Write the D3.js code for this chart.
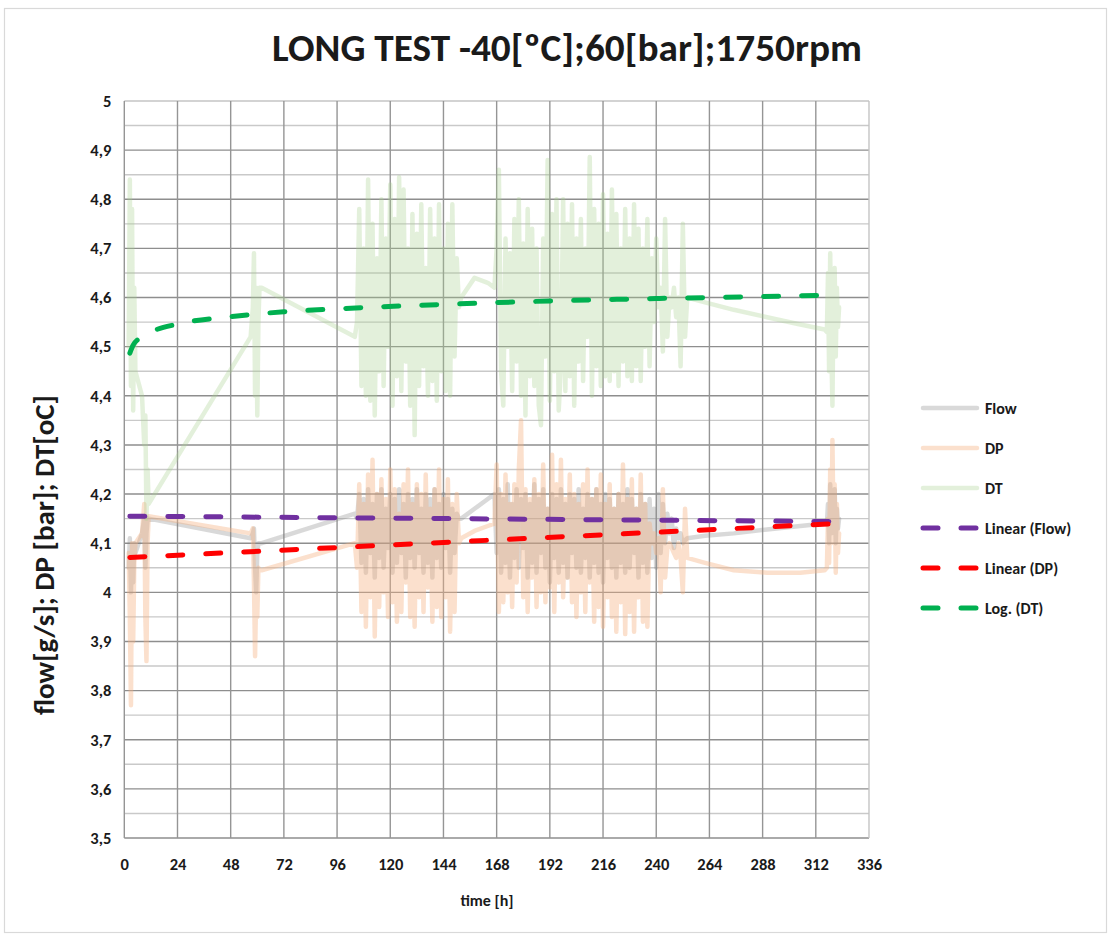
<!DOCTYPE html>
<html>
<head>
<meta charset="utf-8">
<script src="https://cdn.jsdelivr.net/npm/d3@7"></script>
<style>
  html, body { margin: 0; padding: 0; background: #fff; }
  svg { display: block; }
  text { font-family: Carlito, Calibri, Lato, "Open Sans", sans-serif; font-weight: bold; fill: #1a1a1a; }
</style>
</head>
<body>
<svg id="chart" width="1109" height="936"></svg>
<script>
// ---------------- DATA ----------------
const titleText = "LONG TEST -40[ºC];60[bar];1750rpm";
const xLabel = "time [h]";
const yLabel = "flow[g/s]; DP [bar]; DT[oC]";
const xTicks = [0, 24, 48, 72, 96, 120, 144, 168, 192, 216, 240, 264, 288, 312, 336];
const yTicks = [3.5, 3.6, 3.7, 3.8, 3.9, 4.0, 4.1, 4.2, 4.3, 4.4, 4.5, 4.6, 4.7, 4.8, 4.9, 5.0];
const yTickLabels = ["3,5","3,6","3,7","3,8","3,9","4","4,1","4,2","4,3","4,4","4,5","4,6","4,7","4,8","4,9","5"];
const yMinorTicks = [3.55, 3.65, 3.75, 3.85, 3.95, 4.05, 4.15, 4.25, 4.35, 4.45, 4.55, 4.65, 4.75, 4.85, 4.95];
const seriesNames = ["Flow", "DP", "DT", "Linear (Flow)", "Linear (DP)", "Log. (DT)"];

// measurement times [h]
const timeH = [
  2,2.5,3,3.5,4,4.5,5,8,9,9.5,10,10.5,11,
  57,58,58.5,59,59.5,60,60.5,61,62,
  104,
  105,106,107,108,109,110,111,112,113,114,
  115,116,117,118,119,120,121,122,123,124,
  125,126,127,128,129,130,131,132,133,134,
  135,136,137,138,139,140,141,142,143,144,
  145,146,147,148,149,150,151,
  152,158,164,
  167,168,169,170,171,172,173,174,175,176,
  177,178,179,180,181,182,183,184,185,186,
  187,188,189,190,191,192,193,194,195,196,
  197,198,199,200,201,202,203,204,205,206,
  207,208,209,210,211,212,213,214,215,216,
  217,218,219,220,221,222,223,224,225,226,
  227,228,229,230,231,232,233,234,235,236,
  237,238,239,240,241,242,243,244,245,246,
  247,248,249,250,251,252,253,254,
  262,275,290,305,316,
  317,317.5,318,318.5,319,319.5,320,320.5,321,321.5,322,322.5
];

const flowVals = [
  4.05,4.11,4.00,4.09,4.02,4.10,4.08,4.12,4.15,4.05,4.12,4.15,4.15,
  4.11,4.12,4.13,4.05,4.00,4.08,4.10,4.10,4.10,
  4.16,
  4.15,4.20,4.06,4.19,4.04,4.21,4.08,4.18,4.03,4.20,
  4.07,4.21,4.05,4.17,4.09,4.20,4.04,4.19,4.06,4.21,
  4.08,4.18,4.03,4.20,4.07,4.19,4.05,4.21,4.08,4.17,
  4.04,4.20,4.06,4.19,4.03,4.21,4.07,4.18,4.05,4.20,
  4.09,4.19,4.04,4.17,4.08,4.16,4.15,
  4.15,4.17,4.19,
  4.20,4.08,4.21,4.04,4.19,4.06,4.22,4.03,4.18,4.07,
  4.21,4.05,4.19,4.09,4.20,4.03,4.18,4.06,4.22,4.04,
  4.19,4.08,4.21,4.05,4.17,4.02,4.20,4.07,4.19,4.04,
  4.21,4.06,4.18,4.03,4.20,4.08,4.19,4.05,4.21,4.04,
  4.17,4.07,4.20,4.03,4.19,4.06,4.21,4.04,4.18,4.02,
  4.20,4.07,4.19,4.05,4.17,4.03,4.20,4.06,4.18,4.04,
  4.21,4.05,4.19,4.08,4.17,4.03,4.20,4.06,4.18,4.04,
  4.19,4.07,4.17,4.05,4.20,4.08,4.18,4.10,4.16,4.12,
  4.15,4.09,4.13,4.11,4.12,4.10,4.106,4.11,
  4.115,4.12,4.128,4.135,4.14,
  4.14,4.18,4.10,4.22,4.12,4.20,4.15,4.21,4.10,4.17,4.13,4.15
];

const dpVals = [
  4.08,3.95,3.77,4.10,3.90,4.06,4.10,4.12,4.18,3.95,3.86,4.10,4.155,
  4.12,4.13,4.02,3.87,4.00,3.95,4.05,4.045,4.045,
  4.10,
  4.05,4.22,3.96,4.18,3.93,4.24,3.99,4.27,3.91,4.20,
  3.97,4.23,4.00,4.19,3.95,4.25,3.98,4.21,3.94,4.16,
  3.96,4.22,4.02,4.25,3.95,4.18,3.93,4.22,3.99,4.20,
  3.96,4.24,4.01,4.17,3.94,4.21,3.97,4.25,3.95,4.19,
  3.99,4.23,3.92,4.18,3.96,4.20,4.10,
  4.11,4.125,4.135,
  4.14,4.26,3.96,4.20,3.98,4.24,4.00,4.18,3.97,4.22,
  4.02,4.25,4.35,3.99,4.21,3.96,4.19,4.03,4.23,3.97,
  4.20,4.00,4.26,3.98,4.17,4.01,4.28,3.96,4.22,4.02,
  4.27,3.99,4.19,4.03,4.24,3.98,4.20,3.95,4.18,4.00,
  4.22,3.96,4.25,4.02,4.19,3.94,4.21,3.97,4.24,3.93,
  4.18,3.99,4.22,3.95,4.17,3.92,4.20,3.98,4.26,3.915,
  4.19,3.96,4.23,3.92,4.17,3.99,4.24,3.94,4.18,3.93,
  4.14,4.10,4.12,4.08,4.11,4.00,4.21,4.03,4.09,4.10,
  4.09,4.08,4.07,4.10,4.07,4.00,4.17,4.07,
  4.06,4.045,4.04,4.04,4.045,
  4.05,4.15,4.06,4.25,4.10,4.31,4.12,4.22,4.04,4.18,4.08,4.12
];

const dtVals = [
  4.50,4.84,4.42,4.78,4.37,4.62,4.45,4.40,4.30,4.36,4.15,4.25,4.18,
  4.52,4.58,4.69,4.40,4.62,4.36,4.55,4.62,4.62,
  4.52,
  4.55,4.78,4.42,4.70,4.40,4.84,4.39,4.75,4.36,4.68,
  4.45,4.80,4.42,4.72,4.50,4.83,4.38,4.76,4.44,4.845,
  4.41,4.82,4.47,4.70,4.38,4.77,4.32,4.73,4.42,4.79,
  4.46,4.66,4.40,4.78,4.43,4.72,4.39,4.79,4.45,4.70,
  4.41,4.75,4.40,4.79,4.48,4.68,4.58,
  4.60,4.64,4.63,
  4.62,4.70,4.86,4.45,4.38,4.72,4.50,4.69,4.41,4.76,
  4.47,4.80,4.40,4.71,4.36,4.78,4.44,4.74,4.42,4.70,
  4.38,4.34,4.72,4.48,4.88,4.39,4.77,4.45,4.80,4.37,
  4.46,4.80,4.41,4.75,4.44,4.79,4.38,4.72,4.47,4.76,
  4.43,4.70,4.52,4.886,4.40,4.78,4.46,4.75,4.42,4.81,
  4.44,4.73,4.43,4.82,4.45,4.77,4.42,4.70,4.47,4.78,
  4.44,4.72,4.43,4.79,4.46,4.74,4.43,4.70,4.50,4.76,
  4.46,4.68,4.55,4.72,4.58,4.62,4.49,4.76,4.52,4.60,
  4.58,4.62,4.56,4.60,4.46,4.75,4.52,4.60,
  4.59,4.575,4.56,4.545,4.535,
  4.53,4.65,4.45,4.69,4.50,4.38,4.60,4.66,4.48,4.62,4.54,4.58
];

// trendlines: [time, value]
const trendFlow = [[2.5, 4.155], [322, 4.144]];
const trendDP = [[2.5, 4.071], [322, 4.140]];
const trendDT = [[2.5, 4.487], [4, 4.503], [8, 4.520], [12, 4.530], [24, 4.546], [48, 4.561],
                 [72, 4.571], [96, 4.577], [144, 4.586], [192, 4.593], [240, 4.598], [288, 4.602], [322, 4.605]];

// ---------------- CHART ----------------
const svg = d3.select("#chart");
const W = 1109, H = 936;
const plot = { left: 124.3, right: 869, top: 101, bottom: 838 };

svg.append("rect").attr("x", 4.5).attr("y", 8.5).attr("width", W - 7).attr("height", H - 12)
  .attr("fill", "#fff").attr("stroke", "#d9d9d9").attr("stroke-width", 1.2);

const x = d3.scaleLinear().domain([0, 336]).range([plot.left, plot.right]);
const y = d3.scaleLinear().domain([3.5, 5]).range([plot.bottom, plot.top]);

// grid
const grid = svg.append("g");
grid.selectAll("line.minor").data(yMinorTicks).join("line")
  .attr("x1", plot.left).attr("x2", plot.right)
  .attr("y1", d => y(d)).attr("y2", d => y(d))
  .attr("stroke", "#c9c9c9").attr("stroke-width", 1.4);
grid.selectAll("line.major").data(yTicks).join("line")
  .attr("x1", plot.left).attr("x2", plot.right)
  .attr("y1", d => y(d)).attr("y2", d => y(d))
  .attr("stroke", d => d === 5 ? "#c4c4c4" : "#8e8e8e").attr("stroke-width", 1.4);
grid.selectAll("line.vert").data(xTicks).join("line")
  .attr("x1", d => x(d)).attr("x2", d => x(d))
  .attr("y1", plot.top).attr("y2", plot.bottom)
  .attr("stroke", d => d === 336 ? "#c4c4c4" : "#959595").attr("stroke-width", 1.4);

// axes (labels only)
const yAxis = d3.axisLeft(y).tickValues(yTicks).tickSize(0).tickPadding(0)
  .tickFormat((d, i) => yTickLabels[i]);
const gy = svg.append("g").attr("transform", `translate(${plot.left - 13},0)`).call(yAxis);
gy.select(".domain").remove();
gy.selectAll("text").style("font-size", "16.5px").attr("fill", "#1a1a1a");

const xAxis = d3.axisBottom(x).tickValues(xTicks).tickSize(0).tickPadding(0);
const gx = svg.append("g").attr("transform", `translate(0,${plot.bottom + 20})`).call(xAxis);
gx.select(".domain").remove();
gx.selectAll("text").style("font-size", "16.5px").attr("fill", "#1a1a1a");

// data series
const pts = (vals) => timeH.map((t, i) => [t, vals[i]]);
const line = d3.line().x(d => x(d[0])).y(d => y(d[1]));
const smooth = d3.line().x(d => x(d[0])).y(d => y(d[1])).curve(d3.curveMonotoneX);

const styles = {
  Flow: { color: "#808080", opacity: 0.3 },
  DP: { color: "#f4b183", opacity: 0.4 },
  DT: { color: "#a9d18e", opacity: 0.32 }
};
const dataG = svg.append("g");
[["Flow", flowVals], ["DP", dpVals], ["DT", dtVals]].forEach(([name, vals]) => {
  dataG.append("path").datum(pts(vals)).attr("d", line)
    .attr("fill", "none").attr("stroke", styles[name].color)
    .attr("stroke-opacity", styles[name].opacity)
    .attr("stroke-width", 4.5).attr("stroke-linejoin", "round").attr("stroke-linecap", "round");
});

const trendStyles = [
  { data: trendFlow, color: "#7030a0", gen: line },
  { data: trendDP, color: "#ff0000", gen: line },
  { data: trendDT, color: "#00b050", gen: smooth }
];
trendStyles.forEach(s => {
  dataG.append("path").datum(s.data).attr("d", s.gen)
    .attr("fill", "none").attr("stroke", s.color).attr("stroke-width", 5)
    .attr("stroke-dasharray", "15,23").attr("stroke-linecap", "round");
});

// title
const title = svg.append("text").attr("x", 567).attr("y", 61).attr("text-anchor", "middle")
  .style("font-size", "30px").text(titleText);
let tw = title.node().getComputedTextLength();
title.style("font-size", (30 * 590 / tw).toFixed(2) + "px");

// axis titles
svg.append("text").attr("x", 487).attr("y", 906).attr("text-anchor", "middle")
  .style("font-size", "16px").text(xLabel);
const yl = svg.append("text").attr("transform", "translate(54,555) rotate(-90)")
  .attr("text-anchor", "middle").style("font-size", "18px").text(yLabel);
let yw = yl.node().getComputedTextLength();
yl.style("font-size", (18 * 320 / yw).toFixed(2) + "px");

// legend
const legend = svg.append("g");
const legendItems = [
  { name: seriesNames[0], color: styles.Flow.color, op: styles.Flow.opacity, dash: null },
  { name: seriesNames[1], color: styles.DP.color, op: styles.DP.opacity, dash: null },
  { name: seriesNames[2], color: styles.DT.color, op: styles.DT.opacity, dash: null },
  { name: seriesNames[3], color: "#7030a0", op: 1, dash: "15,23" },
  { name: seriesNames[4], color: "#ff0000", op: 1, dash: "15,23" },
  { name: seriesNames[5], color: "#00b050", op: 1, dash: "15,23" }
];
legendItems.forEach((it, i) => {
  const ly = 408 + i * 40;
  const l = legend.append("line").attr("x1", 923).attr("x2", 977).attr("y1", ly).attr("y2", ly)
    .attr("stroke", it.color).attr("stroke-opacity", it.op).attr("stroke-width", it.dash ? 5 : 4.5)
    .attr("stroke-linecap", "round");
  if (it.dash) l.attr("stroke-dasharray", "15,23");
  legend.append("text").attr("x", 985).attr("y", ly + 6).style("font-size", "16px").text(it.name);
});
</script>
</body>
</html>
